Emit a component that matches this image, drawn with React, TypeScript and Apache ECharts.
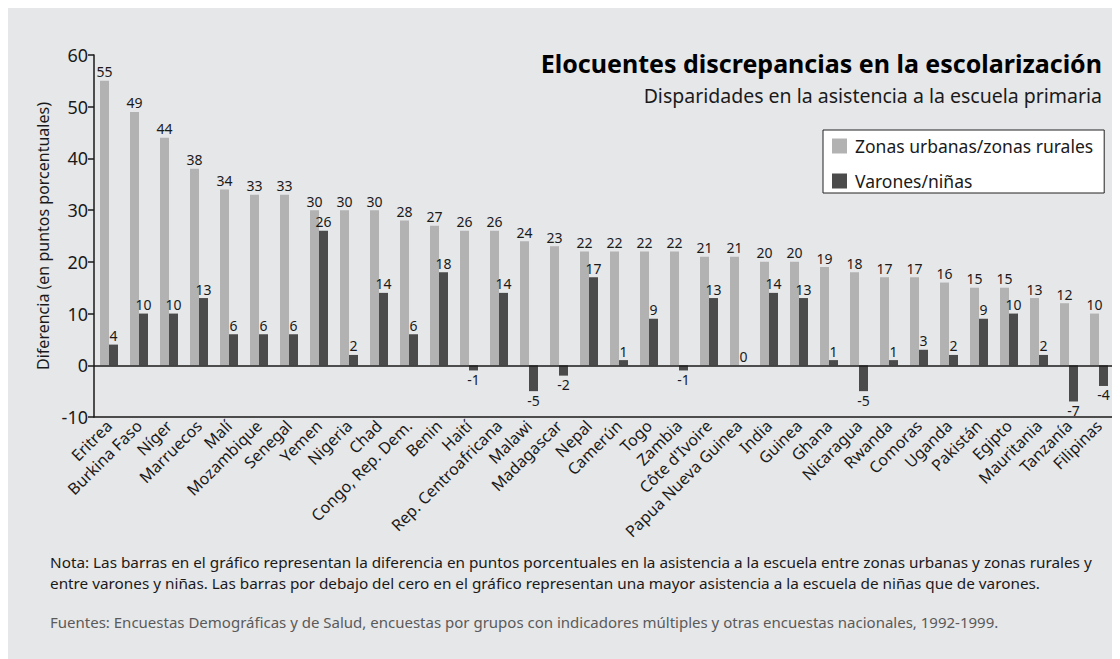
import React, { useEffect, useRef } from "react";
import * as echarts from "echarts";

const categories = [
  "Eritrea", "Burkina Faso", "Níger", "Marruecos", "Malí", "Mozambique", "Senegal", "Yemen",
  "Nigeria", "Chad", "Congo, Rep. Dem.", "Benin", "Haití", "Rep. Centroafricana", "Malawi",
  "Madagascar", "Nepal", "Camerún", "Togo", "Zambia", "Côte d'Ivoire", "Papua Nueva Guinea",
  "India", "Guinea", "Ghana", "Nicaragua", "Rwanda", "Comoras", "Uganda", "Pakistán", "Egipto",
  "Mauritania", "Tanzanía", "Filipinas",
];
const urbanRural = [55, 49, 44, 38, 34, 33, 33, 30, 30, 30, 28, 27, 26, 26, 24, 23, 22, 22, 22, 22, 21, 21, 20, 20, 19, 18, 17, 17, 16, 15, 15, 13, 12, 10];
const boysGirls = [4, 10, 10, 13, 6, 6, 6, 26, 2, 14, 6, 18, -1, 14, -5, -2, 17, 1, 9, -1, 13, 0, 14, 13, 1, -5, 1, 3, 2, 9, 10, 2, -7, -4];
const yMin = -10;
const yMax = 60;
const yInterval = 10;

const seriesNames = ["Zonas urbanas/zonas rurales", "Varones/niñas"];
const titleText = "Elocuentes discrepancias en la escolarización";
const subtitleText = "Disparidades en la asistencia a la escuela primaria";
const yAxisTitle = "Diferencia (en puntos porcentuales)";
const noteLines = [
  "Nota: Las barras en el gráfico representan la diferencia en puntos porcentuales en la asistencia a la escuela entre zonas urbanas y zonas rurales y",
  "entre varones y niñas. Las barras por debajo del cero en el gráfico representan una mayor asistencia a la escuela de niñas que de varones.",
];
const sourceText = "Fuentes: Encuestas Demográficas y de Salud, encuestas por grupos con indicadores múltiples y otras encuestas nacionales, 1992-1999.";

const FONT = "'Noto Sans', sans-serif";
const LIGHT = "#b2b2b2";
const DARK = "#4b4b4b";
const INK = "#1a1a1a";

export default function App() {
  const ref = useRef<HTMLDivElement>(null);
  useEffect(() => {
    if (!ref.current) return;
    const chart = echarts.init(ref.current, null, { renderer: "svg" });
    chart.setOption({
      animation: false,
      backgroundColor: "#e6e7e9",
      textStyle: { fontFamily: FONT, color: INK },
      grid: { left: 86, top: 47, width: 1020, height: 362, containLabel: false },
      legend: {
        orient: "vertical",
        left: 815,
        top: 122,
        backgroundColor: "#ffffff",
        borderColor: "#222",
        borderWidth: 1,
        borderRadius: 0,
        padding: [7, 11, 3, 9],
        itemWidth: 15,
        itemHeight: 15,
        itemGap: 17,
        icon: "rect",
        textStyle: { fontFamily: FONT, fontSize: 17.5, color: INK, lineHeight: 17, padding: [0, 0, 0, 3] },
        data: seriesNames,
      },
      xAxis: {
        type: "category",
        data: categories,
        axisLine: { onZero: false, lineStyle: { color: INK, width: 1.5 } },
        axisTick: { show: false },
        axisLabel: { interval: 0, rotate: 45, margin: 6, fontFamily: FONT, fontSize: 16, color: INK },
      },
      yAxis: {
        type: "value",
        min: yMin,
        max: yMax,
        interval: yInterval,
        name: yAxisTitle,
        nameLocation: "middle",
        nameGap: 41,
        nameTextStyle: { fontFamily: FONT, fontSize: 16, color: INK },
        axisLine: { show: true, lineStyle: { color: INK, width: 1.5 } },
        axisTick: { show: true, length: 6, lineStyle: { color: INK, width: 1.5 } },
        axisLabel: { fontFamily: FONT, fontSize: 18, color: INK, margin: 6 },
        splitLine: { show: false },
      },
      series: [
        {
          name: seriesNames[0],
          type: "bar",
          data: urbanRural,
          barWidth: 9,
          barGap: "0%",
          itemStyle: { color: LIGHT },
          label: { show: true, position: "top", distance: 2, fontFamily: FONT, fontSize: 14, color: INK },
          markLine: {
            silent: true,
            symbol: "none",
            label: { show: false },
            lineStyle: { color: INK, width: 1.5, type: "solid" },
            data: [{ yAxis: 0 }],
          },
        },
        {
          name: seriesNames[1],
          type: "bar",
          data: boysGirls.map((v) => ({ value: v, label: { position: v < 0 ? "bottom" : "top" } })),
          barWidth: 9,
          barGap: "0%",
          itemStyle: { color: DARK },
          label: { show: true, distance: 2, fontFamily: FONT, fontSize: 14, color: INK },
        },
      ],
      graphic: [
        {
          type: "text",
          x: 1094,
          y: 55,
          style: { text: titleText, font: `bold 25px ${FONT}`, fill: "#000", align: "right", verticalAlign: "middle" },
        },
        {
          type: "text",
          x: 1094,
          y: 87,
          style: { text: subtitleText, font: `19.5px ${FONT}`, fill: INK, align: "right", verticalAlign: "middle" },
        },
        {
          type: "text",
          x: 42,
          y: 554,
          style: { text: noteLines[0], font: `15.3px ${FONT}`, fill: INK, align: "left", verticalAlign: "middle" },
        },
        {
          type: "text",
          x: 42,
          y: 575,
          style: { text: noteLines[1], font: `15.3px ${FONT}`, fill: INK, align: "left", verticalAlign: "middle" },
        },
        {
          type: "text",
          x: 42,
          y: 614,
          style: { text: sourceText, font: `15px ${FONT}`, fill: "#5a5a5a", align: "left", verticalAlign: "middle" },
        },
      ],
    });
    return () => chart.dispose();
  }, []);
  return <div ref={ref} style={{ width: 1112, height: 651 }} />;
}
